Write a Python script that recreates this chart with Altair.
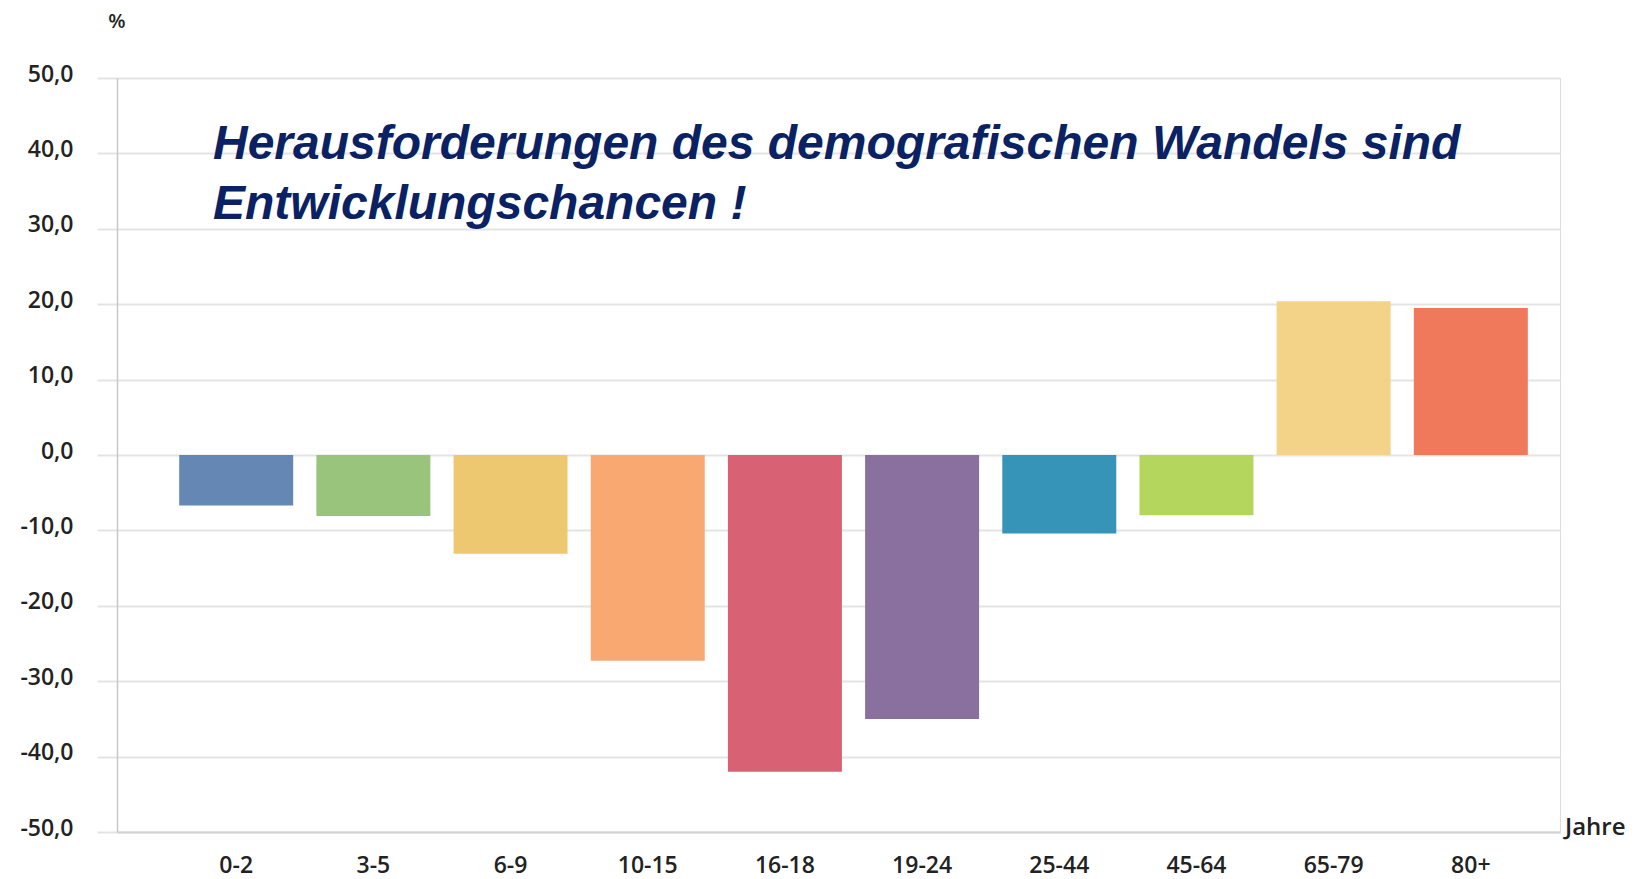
import altair as alt
import pandas as pd

age_groups = ["0-2", "3-5", "6-9", "10-15", "16-18", "19-24", "25-44", "45-64", "65-79", "80+"]
change_pct = [-6.7, -8.1, -13.1, -27.3, -42.0, -35.0, -10.4, -8.0, 20.4, 19.5]
bar_colors = ["#6587b3", "#98c47b", "#edc871", "#f9a872", "#d86273",
              "#89709e", "#3694b8", "#b4d65c", "#f3d387", "#ef795a"]
y_ticks = [-50, -40, -30, -20, -10, 0, 10, 20, 30, 40, 50]
title_text = "Herausforderungen des demografischen Wandels sind\nEntwicklungschancen !"
y_unit = "%"
x_unit = "Jahre"

df = pd.DataFrame({"group": age_groups, "value": change_pct})

label_font = "Open Sans"
label_color = "#222222"
grid_color = "#e4e4e4"

bars = alt.Chart(df).mark_bar().encode(
    x=alt.X(
        "group:N",
        sort=age_groups,
        scale=alt.Scale(paddingInner=0.169, paddingOuter=0.344, align=0.659),
        axis=alt.Axis(
            title=None, labelAngle=0, ticks=False, grid=False,
            domain=True, domainColor="#d2d2d2", domainWidth=2,
            labelFont=label_font, labelFontSize=23, labelFontWeight=600, labelColor=label_color,
            labelPadding=22,
        ),
    ),
    y=alt.Y(
        "value:Q",
        scale=alt.Scale(domain=[-50, 50], nice=False, zero=True),
        axis=alt.Axis(
            title=None, values=y_ticks,
            labelExpr="(datum.value < 0 ? '-' : '') + replace(format(abs(datum.value), '.1f'), '.', ',')",
            grid=True, gridColor=grid_color, gridWidth=2,
            ticks=True, tickSize=20, tickColor=grid_color, tickWidth=2,
            domain=True, domainColor="#c8c8c8", domainWidth=1.5,
            labelFont=label_font, labelFontSize=23, labelFontWeight=600, labelColor=label_color,
            labelPadding=24, labelOffset=-4,
        ),
    ),
    color=alt.Color("group:N", scale=alt.Scale(domain=age_groups, range=bar_colors), legend=None),
)

title_df = pd.DataFrame({"t": [title_text]})
title = alt.Chart(title_df).mark_text(
    align="left", baseline="alphabetic", lineBreak="\n", lineHeight=60,
    font="Liberation Sans", fontSize=48, fontStyle="italic", fontWeight="bold",
    color="#0a2263",
).encode(x=alt.value(96), y=alt.value(81), text="t:N")

unit_df = pd.DataFrame({"t": [y_unit]})
unit = alt.Chart(unit_df).mark_text(
    align="center", baseline="middle", font=label_font, fontSize=20, fontWeight=600, color=label_color,
).encode(x=alt.value(0), y=alt.value(-56), text="t:N")

xunit_df = pd.DataFrame({"t": [x_unit]})
xunit = alt.Chart(xunit_df).mark_text(
    align="left", baseline="alphabetic", font=label_font, fontSize=24, fontWeight=600, color=label_color,
).encode(x=alt.value(1448), y=alt.value(757), text="t:N")

chart = alt.layer(bars, title, unit, xunit).properties(
    width=1443, height=754,
    autosize=alt.AutoSizeParams(type="none"),
    padding={"left": 109, "top": 70, "right": 71, "bottom": 50},
).configure_view(stroke=None).configure(background="white")

chart.save("out.html", embed_options={"renderer": "svg", "actions": False})
